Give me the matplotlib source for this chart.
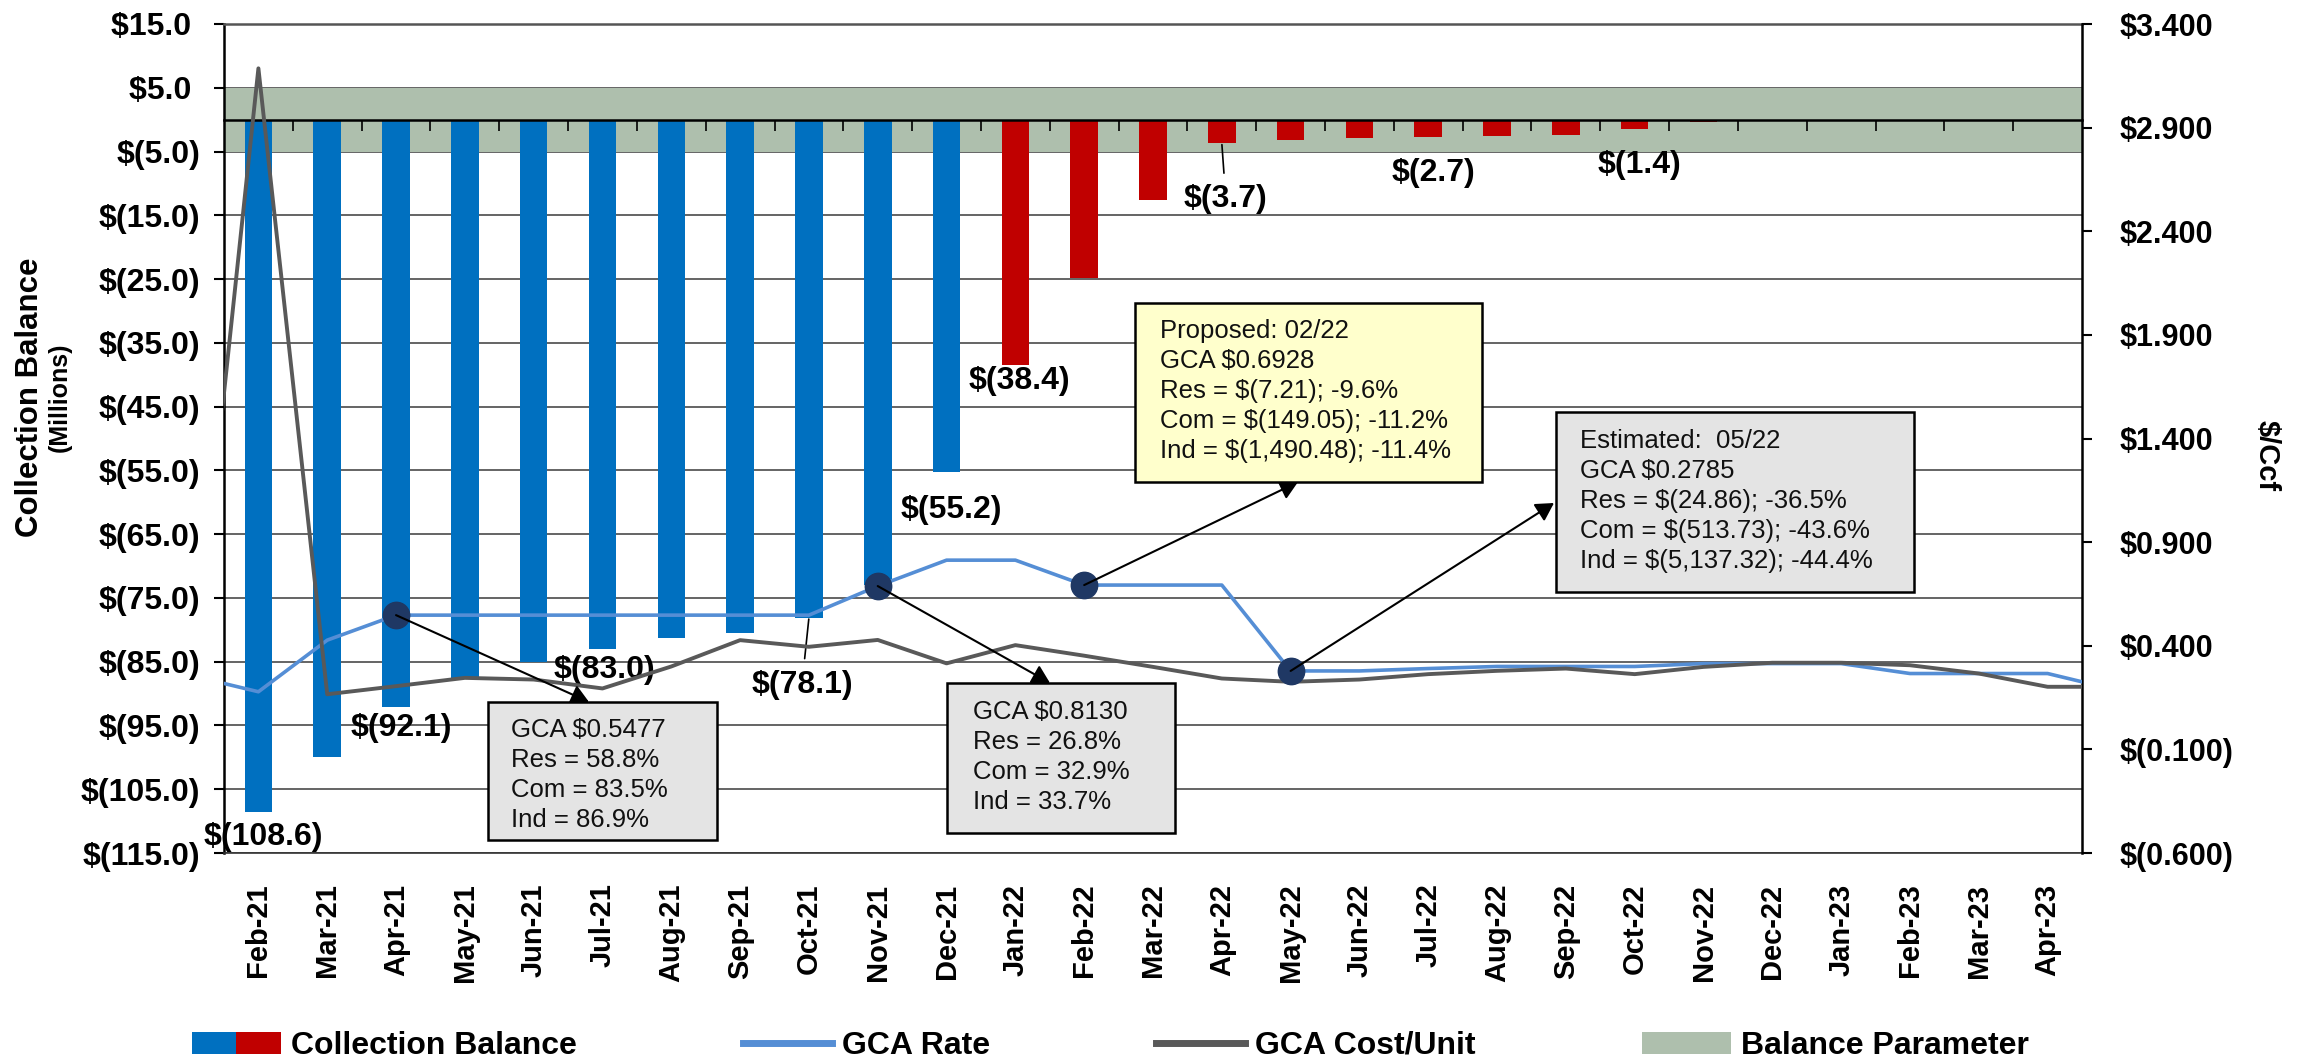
# GCA collection balance vs GCA rate / cost per unit

import numpy as np
import matplotlib.pyplot as plt
from matplotlib.patches import Patch, Rectangle
from matplotlib.lines import Line2D
from matplotlib.legend_handler import HandlerTuple

plt.rcParams['font.family'] = ['Liberation Sans', 'DejaVu Sans']

# ---- data ----
months = ['Feb-21', 'Mar-21', 'Apr-21', 'May-21', 'Jun-21', 'Jul-21', 'Aug-21',
          'Sep-21', 'Oct-21', 'Nov-21', 'Dec-21', 'Jan-22', 'Feb-22', 'Mar-22',
          'Apr-22', 'May-22', 'Jun-22', 'Jul-22', 'Aug-22', 'Sep-22', 'Oct-22',
          'Nov-22', 'Dec-22', 'Jan-23', 'Feb-23', 'Mar-23', 'Apr-23']
# collection balance, $ millions
balance = [-108.6, -100.0, -92.1, -87.5, -85.1, -83.0, -81.3, -80.5, -78.1,
           -73.0, -55.2, -38.4, -24.8, -12.6, -3.7, -3.2, -2.9, -2.7, -2.6,
           -2.4, -1.4, -0.4, 0.0, 0.0, 0.0, 0.0, 0.0]
n_actual = 11  # Feb-21 .. Dec-21 are actuals, rest projected

# the lines run one month past each end (only half of that segment shows)
line_months = ['Jan-21'] + months + ['May-23']
gca_rate = [0.258, 0.178, 0.427, 0.5477, 0.5477, 0.5477, 0.5477, 0.5477, 0.5477,
            0.5477, 0.688, 0.8130, 0.8130, 0.6928, 0.6928, 0.6928, 0.2785, 0.2785,
            0.290, 0.300, 0.300, 0.300, 0.314, 0.314, 0.314, 0.266, 0.266, 0.266,
            0.186]
gca_cost = [0.052, 3.186, 0.166, 0.205, 0.245, 0.237, 0.194, 0.300, 0.427, 0.395,
            0.428, 0.315, 0.403, 0.352, 0.298, 0.242, 0.226, 0.237, 0.263, 0.279,
            0.290, 0.263, 0.298, 0.318, 0.318, 0.306, 0.266, 0.202, 0.202]

band_low, band_high = -5.0, 5.0

left_ticks = np.arange(15, -116, -10)
right_ticks = np.round(np.arange(-0.6, 3.41, 0.5), 3)

# bar labels: month -> offset of label centre from bar end (pixels)
label_offsets = {'Feb-21': (5, -25), 'Apr-21': (5, -21), 'Jul-21': (2, -21),
                 'Oct-21': (-7, -67), 'Dec-21': (5, -38), 'Jan-22': (4, -16),
                 'Apr-22': (4, -56), 'Jul-22': (5, -36), 'Oct-22': (5, -36)}
leader_lines = ['Oct-21', 'Apr-22']

callouts = [
    dict(month='Apr-21',
         lines=['GCA $0.5477', 'Res = 58.8%', 'Com = 83.5%', 'Ind = 86.9%'],
         box=(488, 702, 717, 840), fc='#E4E4E4', tx=511, ty=730, tip=(589, 702)),
    dict(month='Nov-21',
         lines=['GCA $0.8130', 'Res = 26.8%', 'Com = 32.9%', 'Ind = 33.7%'],
         box=(947, 683, 1175, 833), fc='#E4E4E4', tx=973, ty=712, tip=(1050, 683)),
    dict(month='Feb-22',
         lines=['Proposed: 02/22', 'GCA $0.6928', 'Res = $(7.21); -9.6%',
                'Com = $(149.05); -11.2%', 'Ind = $(1,490.48); -11.4%'],
         box=(1135, 303, 1482, 482), fc='#FFFFCC', tx=1160, ty=331, tip=(1298, 482)),
    dict(month='May-22',
         lines=['Estimated:  05/22', 'GCA $0.2785', 'Res = $(24.86); -36.5%',
                'Com = $(513.73); -43.6%', 'Ind = $(5,137.32); -44.4%'],
         box=(1556, 412, 1914, 592), fc='#E4E4E4', tx=1580, ty=441, tip=(1554, 503)),
]

BLUE = '#0070C0'
RED = '#C00000'
RATE_C = '#558ED5'
COST_C = '#595959'
BAND_C = '#AEBFAD'
NAVY = '#1F3864'


def fmt_left(v):
    return f'$({abs(v):.1f})' if v < 0 else f'${v:.1f} '


def fmt_right(v):
    return f'$({abs(v):.3f})' if v < 0 else f'${v:.3f}'


W, H = 2308, 1064
fig = plt.figure(figsize=(W / 100, H / 100), dpi=100)
ax = fig.add_axes([224 / W, 1 - 853 / H, (2082 - 224) / W, (853 - 24) / H])

x = np.arange(len(months))
colors = [BLUE if i < n_actual else RED for i in range(len(months))]
ax.bar(x, balance, width=0.4, color=colors, zorder=2)
ax.axhspan(band_low, band_high, color=BAND_C, lw=0, zorder=1)

ax.set_xlim(-0.5, len(months) - 0.5)
ax.set_ylim(left_ticks[-1], left_ticks[0])
ax.set_yticks(left_ticks)
ax.set_yticklabels([fmt_left(v) for v in left_ticks], fontweight='bold', fontsize=23)
ax.grid(axis='y', color='#3a3a3a', lw=1.1)
ax.set_axisbelow(True)
ax.set_xticks(x)
ax.set_xticklabels(months, rotation=90, fontsize=21, fontweight='bold')
ax.tick_params(axis='x', length=0, pad=22)
ax.tick_params(axis='y', length=7, width=1.5, pad=10)
ax.spines['left'].set_linewidth(1.8)
ax.spines['top'].set_color('#555555')
ax.spines['top'].set_linewidth(1.8)
ax.spines['bottom'].set_color('#333333')
ax.spines['bottom'].set_linewidth(1.2)
ax.spines['right'].set_visible(False)

# category axis line at zero, with tick marks between months
axz = ax.twiny()
axz.set_xlim(ax.get_xlim())
axz.spines['bottom'].set_position(('data', 0))
axz.xaxis.set_ticks_position('bottom')
axz.set_xticks(np.arange(0.5, len(months) - 1, 1))
axz.tick_params(axis='x', direction='out', length=8, width=1.2,
                labelbottom=False, labeltop=False, top=False)
for s in ['top', 'left', 'right']:
    axz.spines[s].set_visible(False)
axz.spines['bottom'].set_linewidth(1.8)

# bar data labels
for m, (dx, dy) in label_offsets.items():
    i = months.index(m)
    v = balance[i]
    props = None
    if m in leader_lines:
        props = dict(arrowstyle='-', color='black', lw=1.2, shrinkA=6, shrinkB=1)
    ax.annotate(f'$({abs(v):.1f})', xy=(i, v), xytext=(dx, dy),
                textcoords='offset pixels', ha='center', va='center',
                fontsize=23, fontweight='bold', arrowprops=props, zorder=4)

# secondary axis: $/Ccf
ax2 = ax.twinx()
ax2.set_ylim(right_ticks[0], right_ticks[-1])
ax2.set_yticks(right_ticks)
ax2.set_yticklabels([fmt_right(v) for v in right_ticks], fontweight='bold', fontsize=22)
ax2.tick_params(axis='y', length=7, width=1.5, pad=20)
for s in ['top', 'left', 'bottom']:
    ax2.spines[s].set_visible(False)
ax2.spines['right'].set_linewidth(1.8)

lx = np.arange(len(line_months)) - 1
ax2.plot(lx, gca_rate, color=RATE_C, lw=2.6, zorder=3)
ax2.plot(lx, gca_cost, color=COST_C, lw=2.8, zorder=3)

# call-outs
for c in callouts:
    k = line_months.index(c['month'])
    ax2.plot(lx[k], gca_rate[k], 'o', ms=19, color=NAVY, zorder=4)
    ax2.annotate('', xy=(c['tip'][0], H - c['tip'][1]), xycoords='figure pixels',
                 xytext=(lx[k], gca_rate[k]), textcoords='data',
                 arrowprops=dict(arrowstyle='-|>,head_length=0.6,head_width=0.34',
                                 mutation_scale=18, color='black', lw=1.5,
                                 shrinkA=0, shrinkB=0), zorder=6)
    x0, y0, x1, y1 = c['box']
    fig.add_artist(Rectangle((x0 / W, 1 - y1 / H), (x1 - x0) / W, (y1 - y0) / H,
                             transform=fig.transFigure, facecolor=c['fc'],
                             edgecolor='black', lw=1.8, zorder=5))
    for j, line in enumerate(c['lines']):
        fig.text(c['tx'] / W, 1 - (c['ty'] + 30 * j) / H, line, fontsize=18.5,
                 ha='left', va='center', color='#111111', zorder=6)

# axis titles
fig.text(30 / W, 1 - 397 / H, 'Collection Balance', rotation=90, ha='center',
         va='center', fontsize=22.5, fontweight='bold')
fig.text(60 / W, 1 - 397 / H, '(Millions)', rotation=90, ha='center',
         va='center', fontsize=18, fontweight='bold')
fig.text(2267 / W, 1 - 456 / H, '$/Ccf', rotation=270, ha='center',
         va='center', fontsize=21, fontweight='bold')

# legend
handles = [(Patch(fc=BLUE), Patch(fc=RED)),
           Line2D([], [], color=RATE_C, lw=5),
           Line2D([], [], color=COST_C, lw=5),
           Patch(fc=BAND_C)]
labels = ['Collection Balance', 'GCA Rate', 'GCA Cost/Unit', 'Balance Parameter']
fig.legend(handles, labels, loc='center', bbox_to_anchor=(1110 / W, 1 - 1046 / H),
           ncol=4, frameon=False, prop={'weight': 'bold', 'size': 23},
           handlelength=2.8, handletextpad=0.3, columnspacing=5.2,
           handler_map={tuple: HandlerTuple(ndivide=None, pad=0)})

fig.savefig('out.png', dpi=100)
